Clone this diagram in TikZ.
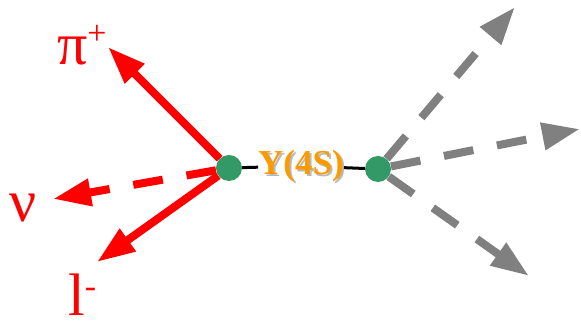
\documentclass[tikz,border=0pt]{standalone}
\usepackage{fontspec}
\setmainfont{Liberation Serif}
\usetikzlibrary{arrows.meta}
\definecolor{dotgreen}{RGB}{51,153,102}
\definecolor{ared}{RGB}{255,0,0}
\definecolor{agray}{RGB}{128,128,128}
\definecolor{yorange}{RGB}{255,153,0}
\begin{document}
\begin{tikzpicture}[x=1pt,y=1pt,
  dot/.style={circle,fill=dotgreen,minimum size=26pt,inner sep=0pt},
  redarrow/.style={draw=ared,line width=8pt,-{Triangle[length=38pt,width=26pt]}},
  grayarrow/.style={draw=agray,line width=8pt,dash pattern=on 30pt off 24pt,-{Triangle[length=38pt,width=26pt]}},
  lbl/.style={text=ared,font=\fontsize{60}{60}\selectfont,inner sep=0pt}]
\useasboundingbox (0,0) rectangle (581,323);
\node[dot] (L) at (229,155) {};
\node[dot] (R) at (378,154) {};
\node[inner sep=0pt,text=agray!55,font=\bfseries\fontsize{35}{35}\selectfont] (Ys) at (303,155) {Y(4S)};
\node[inner sep=0pt,text=yorange,font=\bfseries\fontsize{35}{35}\selectfont] (Y) at (301,157) {Y(4S)};
\draw[line width=3pt] (L) -- (Y);
\draw[line width=3pt] (Y) -- (R);
\coordinate (pi) at (108,276);
\coordinate (nu) at (53,124);
\coordinate (lm) at (97,61);
\coordinate (g1) at (515,316);
\coordinate (g2) at (580,194);
\coordinate (g3) at (529,47);
\draw[redarrow] (L) -- (pi);
\draw[redarrow,dash pattern=on 30pt off 24pt] (L) -- (nu);
\draw[redarrow] (L) -- (lm);
\draw[grayarrow] (R) -- (g1);
\draw[grayarrow] (R) -- (g2);
\draw[grayarrow] (R) -- (g3);
\node[lbl,anchor=base west] (tpi) at (57,258) {π\raisebox{20pt}{\fontsize{34}{34}\selectfont +}};
\node[lbl,anchor=base west] (tnu) at (9,101) {ν};
\node[lbl,anchor=base west] (tl) at (68,7) {l\raisebox{18pt}{\fontsize{34}{34}\selectfont -}};
\end{tikzpicture}
\end{document}
